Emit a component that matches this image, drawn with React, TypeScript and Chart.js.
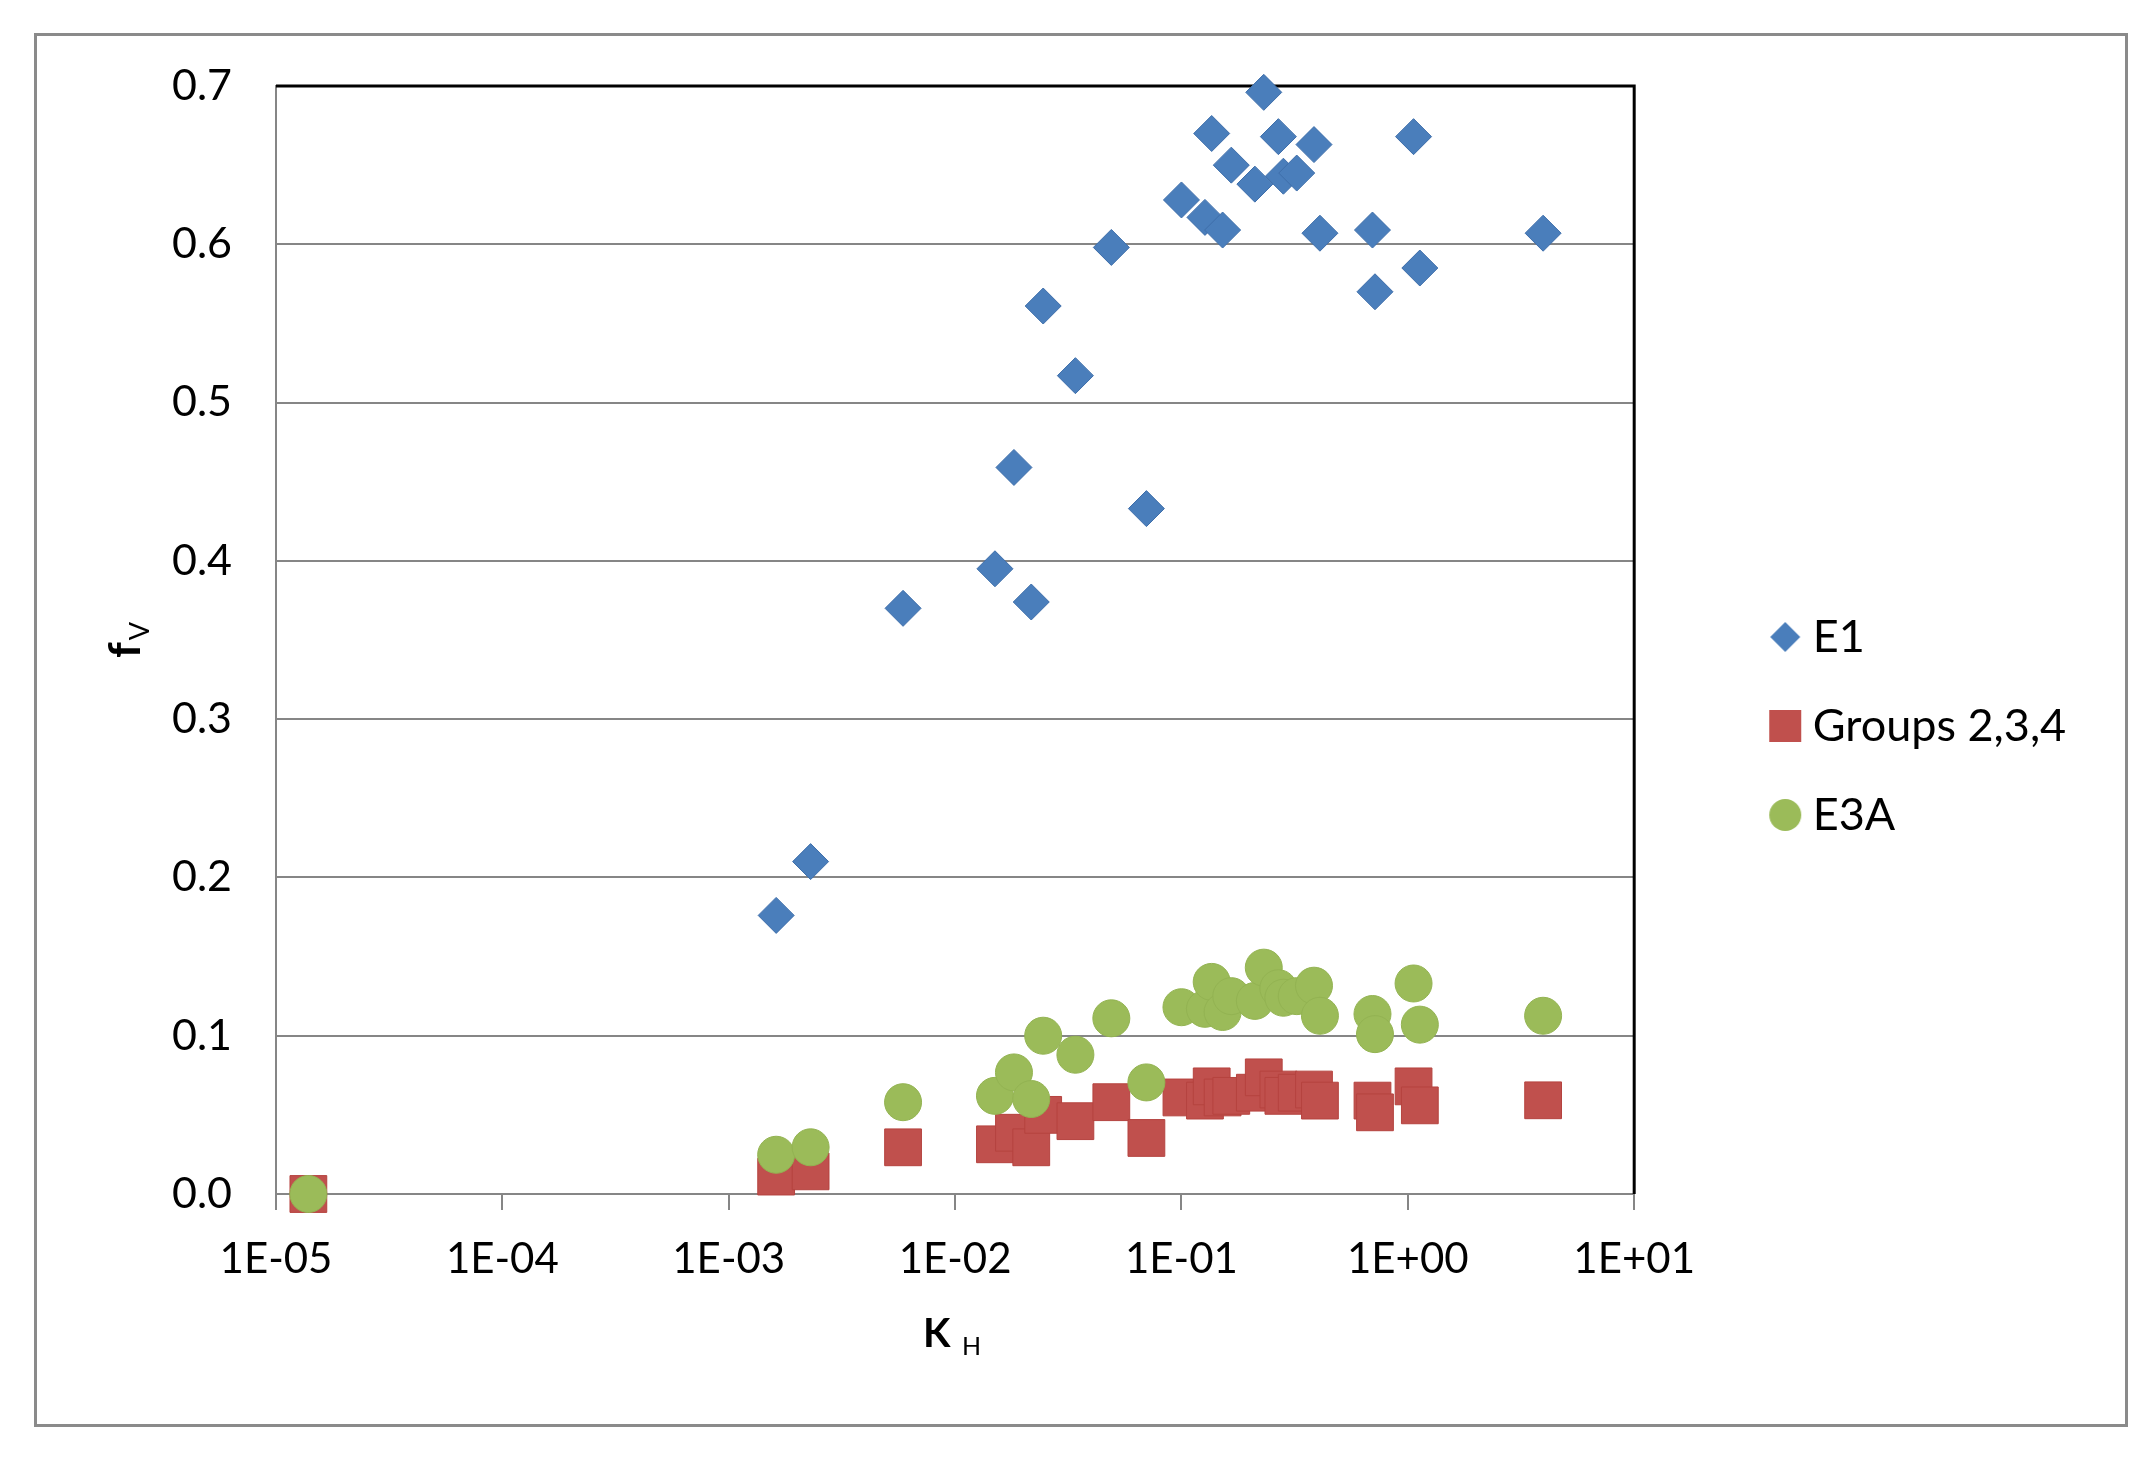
import React, { useEffect, useRef } from 'react';
import { Chart, registerables } from 'chart.js';

Chart.register(...registerables);

// K_H values (shared by all three series)
const kH = [1.39e-5, 1.62e-3, 2.30e-3, 5.89e-3, 0.0150, 0.0182, 0.0217, 0.0245, 0.0340, 0.0490, 0.0700, 0.100, 0.127, 0.136, 0.152, 0.166, 0.211, 0.231, 0.268, 0.282, 0.323, 0.385, 0.409, 0.698, 0.716, 1.06, 1.13, 3.96];
// f_V values
const fvE1 = [0, 0.176, 0.210, 0.370, 0.395, 0.459, 0.374, 0.561, 0.517, 0.598, 0.433, 0.628, 0.617, 0.670, 0.609, 0.650, 0.638, 0.696, 0.668, 0.643, 0.645, 0.663, 0.607, 0.609, 0.570, 0.668, 0.585, 0.607];
const fvGroups = [0, 0.011, 0.0143, 0.0295, 0.0314, 0.0387, 0.0295, 0.050, 0.046, 0.058, 0.0354, 0.061, 0.059, 0.068, 0.061, 0.062, 0.064, 0.0737, 0.066, 0.062, 0.064, 0.066, 0.059, 0.059, 0.0516, 0.068, 0.056, 0.0592];
const fvE3A = [0, 0.0248, 0.0295, 0.058, 0.062, 0.0768, 0.060, 0.100, 0.088, 0.111, 0.0705, 0.118, 0.117, 0.134, 0.115, 0.125, 0.122, 0.143, 0.130, 0.124, 0.125, 0.1316, 0.1126, 0.1137, 0.101, 0.133, 0.107, 0.1126];

const seriesLabels = ['E1', 'Groups 2,3,4', 'E3A'];
const xTickValues = [1e-5, 1e-4, 1e-3, 1e-2, 1e-1, 1, 10];
const xTickLabels = ['1E-05', '1E-04', '1E-03', '1E-02', '1E-01', '1E+00', '1E+01'];

const BLUE = '#4A7EBB';
const RED = '#C0504D';
const GREEN = '#9BBB59';
const GRID = '#868686';
const FONT = "Lato, 'DejaVu Sans', sans-serif";

const CANVAS_W = 2088;
const CANVAS_H = 1388;
const LEGEND_LEFT = 1697;
const LEGEND_PAD = 44;
const LEGEND_FONT = 45;
const LEGEND_BOX = 10;

function makeIcon(kind: string, fill: string): HTMLCanvasElement {
  const c = document.createElement('canvas');
  c.width = 34;
  c.height = 34;
  const g = c.getContext('2d')!;
  g.fillStyle = fill;
  const m = 17;
  if (kind === 'diamond') {
    g.beginPath();
    g.moveTo(m, m - 15);
    g.lineTo(m + 15, m);
    g.lineTo(m, m + 15);
    g.lineTo(m - 15, m);
    g.closePath();
    g.fill();
  } else if (kind === 'square') {
    g.fillRect(m - 16, m - 16, 32, 32);
  } else {
    g.beginPath();
    g.arc(m, m, 16, 0, Math.PI * 2);
    g.fill();
  }
  return c;
}

const framePlugin = {
  id: 'plotFrame',
  beforeDatasetsDraw(chart: any) {
    const { ctx, chartArea: a } = chart;
    ctx.save();
    ctx.strokeStyle = '#000';
    ctx.lineWidth = 3;
    ctx.beginPath();
    ctx.moveTo(a.left, a.top);
    ctx.lineTo(a.right, a.top);
    ctx.lineTo(a.right, a.bottom);
    ctx.stroke();
    ctx.restore();
  },
};

const titlesPlugin = {
  id: 'axisTitles',
  afterDraw(chart: any) {
    const { ctx, chartArea: a } = chart;
    ctx.save();
    ctx.fillStyle = '#000';
    ctx.textAlign = 'left';
    ctx.textBaseline = 'alphabetic';
    // y title: f_V (rotated)
    ctx.font = `bold 44px ${FONT}`;
    const fw = ctx.measureText('f').width;
    ctx.font = `27px ${FONT}`;
    const vw = ctx.measureText('V').width;
    const total = fw + 2 + vw;
    const midY = (a.top + a.bottom) / 2;
    ctx.translate(a.left - 136, midY + total / 2);
    ctx.rotate(-Math.PI / 2);
    ctx.font = `bold 44px ${FONT}`;
    ctx.fillText('f', 0, 0);
    ctx.font = `27px ${FONT}`;
    ctx.fillText('V', fw + 2, 9);
    ctx.restore();

    // x title: K_H
    ctx.save();
    ctx.fillStyle = '#000';
    ctx.textAlign = 'left';
    ctx.textBaseline = 'alphabetic';
    const midX = (a.left + a.right) / 2;
    const base = a.bottom + 153;
    ctx.font = `bold 40px ${FONT}`;
    ctx.fillText('K', midX - 32, base);
    ctx.font = `25px ${FONT}`;
    ctx.fillText('H', midX + 7, base + 8);
    ctx.restore();
  },
};

export default function App() {
  const ref = useRef<HTMLCanvasElement>(null);

  useEffect(() => {
    const canvas = ref.current;
    if (!canvas) return;
    Chart.defaults.font.family = FONT;
    const icons = [makeIcon('diamond', BLUE), makeIcon('square', RED), makeIcon('circle', GREEN)];

    // legend width so that its left edge lands where wanted
    const mctx = document.createElement('canvas').getContext('2d')!;
    mctx.font = `${LEGEND_FONT}px ${FONT}`;
    const textW = Math.max(...seriesLabels.map((s) => mctx.measureText(s).width));
    const legendW = LEGEND_PAD + LEGEND_BOX + LEGEND_FONT / 2 + textW + 10;
    const padRight = Math.max(0, CANVAS_W - LEGEND_LEFT - legendW - 2);

    const mk = (ys: number[]) => kH.map((x, i) => ({ x, y: ys[i] }));

    const chart = new Chart(canvas, {
      type: 'scatter',
      data: {
        datasets: [
          {
            label: seriesLabels[0],
            data: mk(fvE1),
            pointStyle: 'rectRot',
            pointRadius: 18,
            pointHoverRadius: 18,
            backgroundColor: BLUE,
            borderColor: '#3E6EAA',
            borderWidth: 1,
            order: 3,
            clip: false,
          },
          {
            label: seriesLabels[1],
            data: mk(fvGroups),
            pointStyle: 'rect',
            pointRadius: 26,
            pointHoverRadius: 26,
            backgroundColor: RED,
            borderColor: '#B5433F',
            borderWidth: 1,
            order: 2,
            clip: false,
          },
          {
            label: seriesLabels[2],
            data: mk(fvE3A),
            pointStyle: 'circle',
            pointRadius: 18.5,
            pointHoverRadius: 18.5,
            backgroundColor: GREEN,
            borderColor: '#93B352',
            borderWidth: 1,
            order: 1,
            clip: false,
          },
        ],
      } as any,
      options: {
        responsive: false,
        maintainAspectRatio: false,
        devicePixelRatio: 1,
        animation: false,
        events: [],
        layout: { padding: { top: 50, left: 0, right: padRight, bottom: 58 } },
        plugins: {
          tooltip: { enabled: false },
          legend: {
            position: 'right',
            labels: {
              usePointStyle: true,
              pointStyleWidth: LEGEND_BOX,
              padding: LEGEND_PAD,
              color: '#000',
              font: { size: LEGEND_FONT, family: FONT },
              sort: (a: any, b: any) => a.datasetIndex - b.datasetIndex,
              generateLabels: (c: any) =>
                (Chart.defaults.plugins.legend.labels.generateLabels as any)(c).map((it: any) => ({
                  ...it,
                  pointStyle: icons[it.datasetIndex],
                })),
            },
          } as any,
        },
        scales: {
          x: {
            type: 'logarithmic',
            min: 1e-5,
            max: 10,
            afterBuildTicks: (s: any) => {
              s.ticks = xTickValues.map((v) => ({ value: v }));
            },
            afterFit: (s: any) => {
              s.height = 172;
            },
            ticks: {
              autoSkip: false,
              maxRotation: 0,
              padding: 24,
              color: '#000',
              font: { size: 42, family: FONT },
              callback: (_v: any, i: number) => xTickLabels[i],
            },
            grid: { drawOnChartArea: false, drawTicks: true, tickLength: 16, color: GRID, lineWidth: 2 },
            border: { color: GRID, width: 2 },
          },
          y: {
            type: 'linear',
            min: 0,
            max: 0.7,
            afterFit: (s: any) => {
              s.width = 239;
            },
            ticks: {
              stepSize: 0.1,
              padding: 2,
              color: '#000',
              font: { size: 43, family: FONT },
              callback: (v: any) => Number(v).toFixed(1),
            },
            grid: { color: GRID, lineWidth: 2, drawTicks: true, tickLength: 42, tickColor: 'rgba(0,0,0,0)' },
            border: { color: GRID, width: 2 },
          },
          y2: {
            type: 'linear',
            position: 'right',
            display: true,
            grid: { display: false },
            border: { display: false },
            ticks: { display: false, padding: 0 },
            afterFit: (s: any) => {
              s.width = 102;
            },
          },
        },
      } as any,
      plugins: [framePlugin, titlesPlugin],
    });

    return () => chart.destroy();
  }, []);

  return (
    <div
      style={{
        position: 'absolute',
        left: 34,
        top: 33,
        width: 2094,
        height: 1394,
        border: '3px solid #8a8a8a',
        boxSizing: 'border-box',
        background: '#fff',
      }}
    >
      <canvas ref={ref} width={CANVAS_W} height={CANVAS_H} style={{ display: 'block', width: CANVAS_W, height: CANVAS_H }} />
    </div>
  );
}
